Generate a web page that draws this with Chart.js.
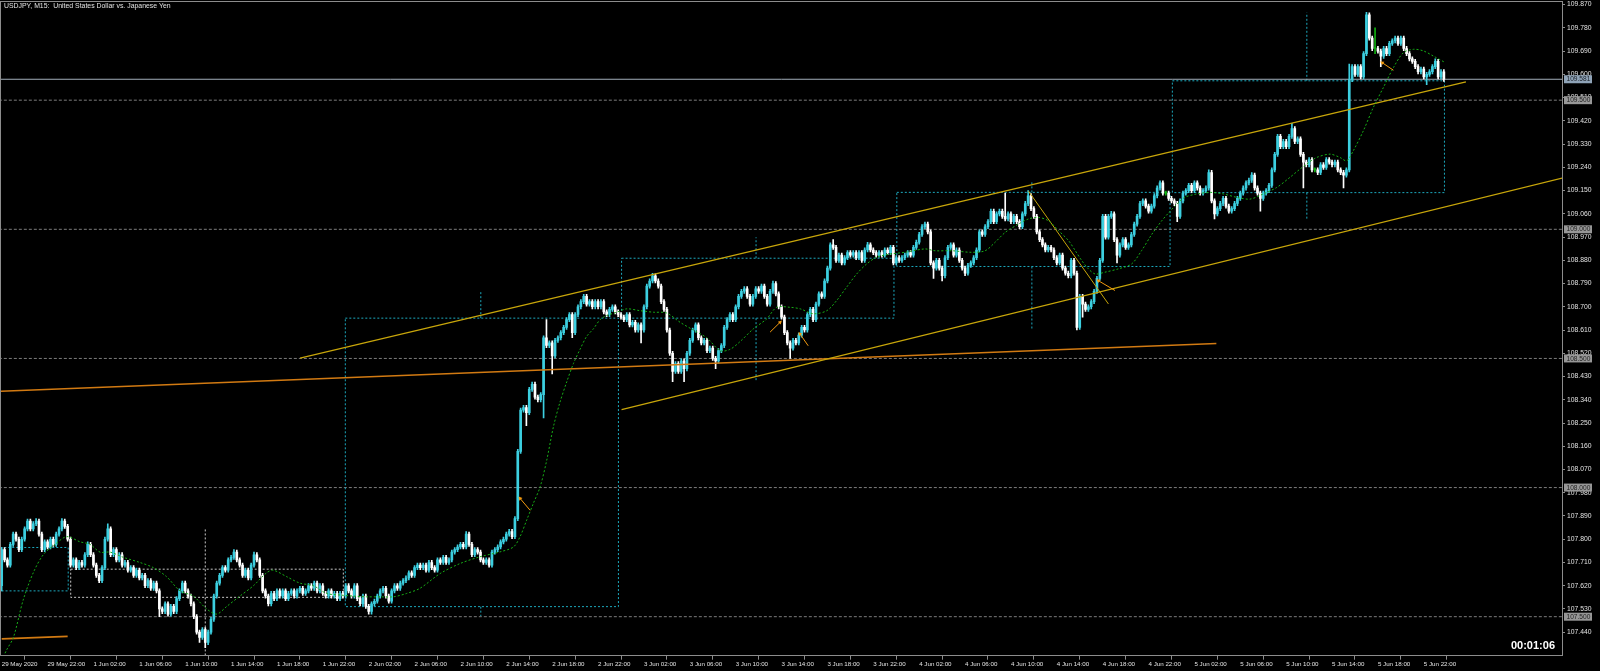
<!DOCTYPE html>
<html>
<head>
<meta charset="utf-8">
<title>USDJPY, M15</title>
<script src="https://cdn.jsdelivr.net/npm/chart.js@4.4.1/dist/chart.umd.min.js"></script>
<style>
    html, body { margin: 0; padding: 0; background: #000; }
    #wrap { width: 1600px; height: 671px; }
</style>
</head>
<body>
<div id="wrap"><canvas id="priceChart" width="1600" height="671"></canvas></div>
<script>
// USDJPY M15 candles, 29 May 18:00 - 5 Jun 23:45 (one close per 15 min bar)
const closesMay29 = [107.76, 107.72, 107.70, 107.78, 107.82, 107.80, 107.76, 107.80, 107.84, 107.87, 107.84, 107.86,
    107.87, 107.82, 107.76, 107.79, 107.77, 107.80, 107.78, 107.82, 107.84, 107.87, 107.85, 107.80];

const closesJun1 = [107.70, 107.72, 107.69, 107.71, 107.70, 107.74, 107.78, 107.74, 107.70, 107.66, 107.64, 107.69,
    107.80, 107.84, 107.74, 107.76, 107.72, 107.74, 107.70, 107.71, 107.68, 107.69, 107.66, 107.68,
    107.65, 107.66, 107.62, 107.64, 107.61, 107.63, 107.60, 107.53, 107.52, 107.55, 107.51, 107.54,
    107.52, 107.57, 107.60, 107.63, 107.60, 107.58, 107.55, 107.50, 107.44, 107.42, 107.45, 107.40,
    107.44, 107.49, 107.58, 107.63, 107.66, 107.69, 107.68, 107.72, 107.73, 107.75, 107.72, 107.70,
    107.66, 107.68, 107.65, 107.70, 107.74, 107.72, 107.66, 107.60, 107.58, 107.55, 107.59, 107.57,
    107.60, 107.58, 107.60, 107.57, 107.59, 107.60, 107.58, 107.60, 107.61, 107.59, 107.60, 107.62,
    107.61, 107.63, 107.60, 107.62, 107.59, 107.58, 107.60, 107.58, 107.59, 107.57, 107.59, 107.58];

const closesJun2 = [107.62, 107.60, 107.58, 107.62, 107.57, 107.55, 107.58, 107.54, 107.52, 107.55, 107.56, 107.58,
    107.60, 107.61, 107.58, 107.56, 107.60, 107.62, 107.61, 107.63, 107.64, 107.65, 107.67, 107.66,
    107.69, 107.70, 107.69, 107.70, 107.68, 107.71, 107.69, 107.68, 107.72, 107.71, 107.73, 107.71,
    107.72, 107.75, 107.76, 107.77, 107.78, 107.77, 107.82, 107.78, 107.74, 107.76, 107.75, 107.72,
    107.71, 107.72, 107.70, 107.75, 107.76, 107.77, 107.79, 107.80, 107.82, 107.83, 107.81, 107.88,
    108.14, 108.30, 108.31, 108.29, 108.38, 108.40, 108.35, 108.34, 108.36, 108.58, 108.55, 108.56,
    108.51, 108.57, 108.58, 108.60, 108.62, 108.65, 108.67, 108.60, 108.67, 108.70, 108.72, 108.74,
    108.71, 108.72, 108.70, 108.72, 108.70, 108.72, 108.68, 108.67, 108.69, 108.70, 108.68, 108.67];

const closesJun3 = [108.66, 108.65, 108.67, 108.63, 108.64, 108.61, 108.63, 108.61, 108.70, 108.78, 108.80, 108.82,
    108.80, 108.78, 108.72, 108.69, 108.61, 108.52, 108.45, 108.48, 108.45, 108.49, 108.46, 108.52,
    108.57, 108.61, 108.63, 108.58, 108.56, 108.57, 108.53, 108.54, 108.50, 108.49, 108.53, 108.55,
    108.62, 108.65, 108.67, 108.65, 108.70, 108.74, 108.76, 108.77, 108.74, 108.71, 108.74, 108.77,
    108.76, 108.78, 108.74, 108.71, 108.76, 108.79, 108.75, 108.70, 108.66, 108.60, 108.56, 108.54,
    108.57, 108.56, 108.59, 108.62, 108.61, 108.67, 108.69, 108.65, 108.71, 108.75, 108.74, 108.80,
    108.85, 108.94, 108.93, 108.88, 108.90, 108.87, 108.89, 108.91, 108.90, 108.91, 108.89, 108.91,
    108.88, 108.92, 108.94, 108.92, 108.91, 108.90, 108.91, 108.90, 108.92, 108.91, 108.93, 108.87];

const closesJun4 = [108.89, 108.88, 108.89, 108.90, 108.91, 108.90, 108.93, 108.95, 108.98, 109.01, 109.02, 108.99,
    108.87, 108.85, 108.88, 108.85, 108.82, 108.89, 108.93, 108.94, 108.90, 108.92, 108.88, 108.85,
    108.83, 108.86, 108.87, 108.89, 108.92, 108.99, 108.98, 109.01, 109.03, 109.07, 109.03, 109.06,
    109.07, 109.05, 109.04, 109.06, 109.03, 109.05, 109.03, 109.01, 109.06, 109.10, 109.13, 109.08,
    109.05, 108.99, 108.96, 108.94, 108.92, 108.93, 108.92, 108.89, 108.87, 108.90, 108.85, 108.83,
    108.82, 108.88, 108.83, 108.62, 108.74, 108.71, 108.69, 108.70, 108.72, 108.76, 108.81, 108.88,
    109.05, 108.97, 109.05, 109.06, 108.96, 108.90, 108.94, 108.96, 108.93, 108.94, 108.98, 109.02,
    109.05, 109.10, 109.11, 109.09, 109.07, 109.09, 109.13, 109.16, 109.18, 109.14, 109.14, 109.12];

const closesJun5 = [109.11, 109.10, 109.05, 109.11, 109.14, 109.15, 109.17, 109.15, 109.18, 109.16, 109.14, 109.15,
    109.16, 109.22, 109.11, 109.06, 109.08, 109.10, 109.12, 109.09, 109.07, 109.08, 109.10, 109.12,
    109.14, 109.16, 109.18, 109.19, 109.21, 109.16, 109.14, 109.12, 109.14, 109.15, 109.17, 109.23,
    109.29, 109.36, 109.32, 109.34, 109.32, 109.36, 109.39, 109.34, 109.35, 109.29, 109.26, 109.25,
    109.27, 109.23, 109.23, 109.22, 109.25, 109.24, 109.27, 109.26, 109.25, 109.26, 109.23, 109.22,
    109.21, 109.23, 109.58, 109.63, 109.60, 109.63, 109.59, 109.68, 109.83, 109.74, 109.70, 109.70,
    109.69, 109.67, 109.70, 109.68, 109.72, 109.73, 109.74, 109.72, 109.74, 109.70, 109.68, 109.66,
    109.65, 109.63, 109.61, 109.62, 109.59, 109.60, 109.61, 109.63, 109.65, 109.59, 109.61, 109.581];

const firstOpen = 107.62;
const wickSize = 0.008;
// bars whose wick sticks out further than usual: [bar, price]
const highOverrides = [[12, 107.88], [21, 107.88], [30, 107.79], [37, 107.86], [81, 107.76], [88, 107.75],
    [162, 107.83], [190, 108.65], [227, 108.83], [269, 108.80], [290, 108.96], [302, 108.95],
    [350, 109.14], [358, 109.15], [387, 109.07], [421, 109.23], [436, 109.22], [450, 109.41],
    [470, 109.64], [476, 109.84], [479, 109.78], [500, 109.66]];
const lowOverrides = [[0, 107.60], [55, 107.50], [69, 107.40], [71, 107.38], [128, 107.51], [129, 107.51],
    [183, 108.24], [189, 108.27], [192, 108.44], [199, 108.58], [223, 108.56], [234, 108.41],
    [238, 108.41], [249, 108.46], [275, 108.50], [325, 108.81], [328, 108.80], [336, 108.82],
    [375, 108.61], [377, 108.66], [389, 108.87], [410, 109.03], [423, 109.04], [439, 109.07],
    [454, 109.16], [468, 109.16], [479, 109.68], [481, 109.63], [497, 109.56]];
const dojiBars = [406, 458, 479];

// axis labels
const timeLabels = ['29 May 2020', '29 May 22:00',
    '1 Jun 02:00', '1 Jun 06:00', '1 Jun 10:00', '1 Jun 14:00', '1 Jun 18:00', '1 Jun 22:00',
    '2 Jun 02:00', '2 Jun 06:00', '2 Jun 10:00', '2 Jun 14:00', '2 Jun 18:00', '2 Jun 22:00',
    '3 Jun 02:00', '3 Jun 06:00', '3 Jun 10:00', '3 Jun 14:00', '3 Jun 18:00', '3 Jun 22:00',
    '4 Jun 02:00', '4 Jun 06:00', '4 Jun 10:00', '4 Jun 14:00', '4 Jun 18:00', '4 Jun 22:00',
    '5 Jun 02:00', '5 Jun 06:00', '5 Jun 10:00', '5 Jun 14:00', '5 Jun 18:00', '5 Jun 22:00'];
const barsPerLabel = 16;
const priceTicks = [109.87, 109.78, 109.69, 109.60, 109.51, 109.42, 109.33, 109.24, 109.15, 109.06,
    108.97, 108.88, 108.79, 108.70, 108.61, 108.52, 108.43, 108.34, 108.25, 108.16,
    108.07, 107.98, 107.89, 107.80, 107.71, 107.62, 107.53, 107.44];
const roundLevels = [109.5, 109.0, 108.5, 108.0, 107.5];
const lastPrice = 109.581;
const chartTitle = 'USDJPY, M15:  United States Dollar vs. Japanese Yen';
const barTimer = '00:01:06';

// moving average (green dotted), read at these bar positions
const maIdx = [0, 1.7, 4.1, 7.5, 11, 14.5, 18.6, 22.7, 27.3, 30.8, 34.3, 37.8, 42.4, 48.2, 52.9, 57.5, 62.2, 66.8, 71.5, 75,
    78.5, 83.1, 87.8, 92.4, 94.7, 99.4, 104, 108.7, 113.3, 118, 122.6, 127.3, 131.9, 136.6, 141.2, 145.9, 152.9, 159.9, 166.8, 173.8,
    178.5, 180.8, 183.1, 185.4, 187.8, 190.1, 192.4, 194.7, 197.1, 199.4, 201.7, 204, 206.4, 208.7, 211, 214.5, 218, 222.6, 227.3, 231.9,
    236.6, 241.2, 245.9, 250.6, 254, 257.5, 262.2, 266.8, 270.3, 275, 278.5, 283.1, 287.8, 291.2, 294.7, 298.2, 301.7, 305.2, 309.8, 315.1,
    322, 325.5, 331.4, 338.3, 343, 346.5, 350, 354.6, 358.1, 361.6, 365.1, 368.6, 372.1, 374.4, 376.7, 379, 381.4, 384.8, 389.5, 394.1,
    397.6, 401.1, 404.6, 407.5, 409.3, 412.5, 416.5, 421.4, 426.1, 430.7, 435.4, 440, 444.7, 449.3, 452.8, 455.2, 458.6, 463.3, 466.8, 469.1,
    471.4, 474.9, 478.4, 481.9, 485.4, 488.9, 492.4, 495.8, 499.3, 503.4];
const maVal = [107.33, 107.371, 107.42, 107.565, 107.67, 107.74, 107.78, 107.81, 107.79, 107.78, 107.75, 107.75, 107.73, 107.71, 107.69, 107.655, 107.60, 107.58, 107.53, 107.51,
    107.54, 107.58, 107.62, 107.67, 107.68, 107.655, 107.63, 107.62, 107.59, 107.584, 107.58, 107.577, 107.577, 107.577, 107.59, 107.61, 107.667, 107.706, 107.732, 107.751,
    107.77, 107.81, 107.874, 107.938, 108.003, 108.106, 108.234, 108.33, 108.41, 108.48, 108.535, 108.585, 108.615, 108.65, 108.666, 108.679, 108.692, 108.685, 108.679, 108.676,
    108.64, 108.61, 108.58, 108.53, 108.535, 108.565, 108.615, 108.653, 108.698, 108.698, 108.692, 108.673, 108.685, 108.724, 108.776, 108.827, 108.866, 108.892, 108.904, 108.911,
    108.924, 108.917, 108.917, 108.911, 108.917, 108.95, 108.988, 109.02, 109.04, 109.046, 109.033, 108.995, 108.956, 108.918, 108.879, 108.847, 108.827, 108.834, 108.847, 108.866,
    108.918, 108.98, 109.033, 109.07, 109.091, 109.123, 109.136, 109.143, 109.137, 109.124, 109.117, 109.137, 109.162, 109.201, 109.233, 109.253, 109.278, 109.291, 109.278, 109.265,
    109.304, 109.381, 109.472, 109.549, 109.626, 109.684, 109.697, 109.691, 109.671, 109.646];

// drawn objects, in [bar, price]
const channelUpper = [[104.05, 108.501], [510.7, 109.571]];
const channelLower = [[216.2, 108.302], [544.6, 109.199]];
const orangeLine = [[-0.6, 108.373], [423.65, 108.558]];
const orangeShort = [[0, 107.414], [23, 107.424]];
const diagonalLine = [[358.1, 109.148], [386.0, 108.711]];
// daily boxes: [fromBar, toBar, low, high]
const cyanBoxes = [[-0.5, 23.2, 107.600, 107.768], [119.85, 215.1, 107.539, 108.656], [216.2, 311.2, 108.656, 108.888],
    [312.2, 407.5, 108.856, 109.143], [408.3, 503.2, 109.142, 109.575]];
const whiteBoxes = [[24.07, 119.15, 107.575, 107.684]];
// vertical marks: [bar, fromPrice, toPrice]
const cyanMarks = [[167.1, 108.656, 108.763], [167.1, 107.539, 107.503], [263.1, 108.888, 108.969], [263.1, 108.656, 108.415],
    [359.3, 109.143, 109.188], [359.3, 108.856, 108.608], [455.2, 109.575, 109.839], [455.2, 109.142, 109.033]];
const whiteMarks = [[71.0, 107.838, 107.33]];
// arrows: [tailBar, tailPrice, headBar, headPrice]
const arrows = [[184.3, 107.912, 180.8, 107.958], [268.0, 108.602, 271.5, 108.640], [281.3, 108.549, 278.4, 108.595],
    [388.3, 108.763, 382.5, 108.801], [485.4, 109.616, 481.5, 109.645]];

// colours
const bullColor = '#3ccfe0';
const bearColor = '#ffffff';
const dojiColor = '#10b010';
const cyanDot = '#1ca8bd';
const labelColor = '#e2e2e2';
const frameColor = '#8c8c8c';
const fontFamily = '"Liberation Sans", Arial, sans-serif';

// ---- build candles ----
const allCloses = [].concat(closesMay29, closesJun1, closesJun2, closesJun3, closesJun4, closesJun5);
const highMap = new Map(highOverrides);
const lowMap = new Map(lowOverrides);

const candles = allCloses.map(function(c, i) {
    const o = i === 0 ? firstOpen : allCloses[i - 1];
    const top = Math.max(o, c);
    const bottom = Math.min(o, c);
    return {
        i: i, o: o, c: c,
        h: highMap.has(i) ? highMap.get(i) : top + wickSize,
        l: lowMap.has(i) ? lowMap.get(i) : bottom - wickSize,
        doji: dojiBars.includes(i)
    };
});

function candleColor(ctx) {
    const bar = candles[ctx.dataIndex];
    if (!bar) return bearColor;
    if (bar.doji) return dojiColor;
    return bar.c > bar.o ? bullColor : bearColor;
}

function toPoints(pairs) {
    return pairs.map(p => ({ x: p[0], y: p[1] }));
}

function boxPoints(b) {
    return [{ x: b[0], y: b[3] }, { x: b[1], y: b[3] }, { x: b[1], y: b[2] }, { x: b[0], y: b[2] }, { x: b[0], y: b[3] }];
}

function lineSet(data, color, width, dash, order) {
    return {
        type: 'line',
        data: data,
        borderColor: color,
        borderWidth: width,
        borderDash: dash || [],
        pointRadius: 0,
        fill: false,
        tension: 0,
        order: order
    };
}

const datasets = [];

// horizontal round levels and last price
roundLevels.forEach(function(level) {
    datasets.push(lineSet([{ x: -1, y: level }, { x: 546, y: level }], '#7c7c7c', 1, [3, 2], 20));
});

// daily boxes and their marks
cyanBoxes.forEach(b => datasets.push(lineSet(boxPoints(b), cyanDot, 1, [2, 2], 19)));
whiteBoxes.forEach(b => datasets.push(lineSet(boxPoints(b), '#c8c8c8', 1, [2, 2], 19)));
cyanMarks.forEach(m => datasets.push(lineSet([{ x: m[0], y: m[1] }, { x: m[0], y: m[2] }], cyanDot, 1, [2, 2], 19)));
whiteMarks.forEach(m => datasets.push(lineSet([{ x: m[0], y: m[1] }, { x: m[0], y: m[2] }], '#c8c8c8', 1, [2, 2], 19)));

datasets.push(lineSet([{ x: -1, y: lastPrice }, { x: 546, y: lastPrice }], '#a3afbb', 1, [], 18));

// candles: wicks then bodies
datasets.push({
    type: 'bar',
    data: candles.map(b => ({ x: b.i, y: [b.l, b.h] })),
    backgroundColor: candleColor,
    barThickness: 1,
    minBarLength: 1,
    grouped: false,
    order: 6
});
datasets.push({
    type: 'bar',
    data: candles.map(b => ({ x: b.i, y: [b.o, b.c] })),
    backgroundColor: candleColor,
    barThickness: 2,
    minBarLength: 1,
    grouped: false,
    order: 5
});

// trend lines
datasets.push(lineSet(toPoints(orangeLine), '#d27a12', 1.6, [], 3));
datasets.push(lineSet(toPoints(orangeShort), '#d27a12', 1.6, [], 3));
datasets.push(lineSet(toPoints(channelUpper), '#c8a60a', 1.2, [], 2));
datasets.push(lineSet(toPoints(channelLower), '#c8a60a', 1.2, [], 2));
datasets.push(lineSet(toPoints(diagonalLine), '#c8a60a', 1, [], 2));

// moving average
const maSet = lineSet(maIdx.map((x, k) => ({ x: x, y: maVal[k] })), '#16ad16', 1, [2, 2], 1);
maSet.tension = 0.3;
datasets.push(maSet);

// arrows
arrows.forEach(function(a) {
    datasets.push({
        type: 'line',
        data: [{ x: a[0], y: a[1] }, { x: a[2], y: a[3] }],
        borderColor: '#f39a10',
        backgroundColor: '#f39a10',
        borderWidth: 1,
        pointStyle: 'triangle',
        pointRadius: ctx => ctx.dataIndex === 1 ? 2.4 : 0,
        pointBorderWidth: 0,
        rotation: function(ctx) {
            const xs = ctx.chart.scales.x;
            const ys = ctx.chart.scales.y;
            const d = ctx.dataset.data;
            const dx = xs.getPixelForValue(d[1].x) - xs.getPixelForValue(d[0].x);
            const dy = ys.getPixelForValue(d[1].y) - ys.getPixelForValue(d[0].y);
            return Math.atan2(dx, -dy) * 180 / Math.PI;
        },
        order: 0
    });
});

// ---- frame, title, marked prices, timer ----
const chartDecor = {
    id: 'chartDecor',
    afterDraw(chart) {
        const ctx = chart.ctx;
        const area = chart.chartArea;
        const yScale = chart.scales.y;
        ctx.save();

        ctx.strokeStyle = frameColor;
        ctx.lineWidth = 1;
        ctx.strokeRect(Math.round(area.left) - 0.5, Math.round(area.top) + 0.5,
            Math.round(area.right - area.left) + 1, Math.round(area.bottom - area.top) - 1);

        ctx.fillStyle = labelColor;
        ctx.font = '6.9px ' + fontFamily;
        ctx.textBaseline = 'middle';
        ctx.textAlign = 'left';
        ctx.fillText(chartTitle, 4, 6.5);

        // price labels with a background box
        const marked = roundLevels.map(v => ({ v: v, bg: '#979797', fg: '#1e1e1e' }));
        marked.push({ v: lastPrice, bg: '#8fa3b7', fg: '#1a1f26' });
        ctx.font = '6.6px ' + fontFamily;
        marked.forEach(function(m) {
            const y = yScale.getPixelForValue(m.v);
            ctx.fillStyle = m.bg;
            ctx.fillRect(area.right + 2, y - 4, 28, 8);
            ctx.fillStyle = m.fg;
            ctx.fillText(m.v.toFixed(3), area.right + 4.5, y + 0.3);
        });

        ctx.fillStyle = '#ffffff';
        ctx.font = 'bold 11px ' + fontFamily;
        ctx.textAlign = 'right';
        ctx.fillText(barTimer, area.right - 7, area.bottom - 10);
        ctx.restore();
    }
};

const xMin = -0.244;
const xMax = 544.2;

new Chart(document.getElementById('priceChart'), {
    type: 'bar',
    data: { datasets: datasets },
    options: {
        responsive: false,
        animation: false,
        devicePixelRatio: 1,
        events: [],
        layout: { autoPadding: false, padding: { left: 1, top: 1, right: 0, bottom: 0 } },
        plugins: {
            legend: { display: false },
            tooltip: { enabled: false },
            title: { display: false }
        },
        scales: {
            x: {
                type: 'linear',
                bounds: 'data',
                min: xMin,
                max: xMax,
                offset: false,
                border: { display: false },
                grid: { display: true, drawOnChartArea: false, drawTicks: true, tickLength: 4, color: frameColor },
                ticks: {
                    autoSkip: false,
                    maxRotation: 0,
                    align: 'start',
                    padding: 1,
                    color: labelColor,
                    font: { size: 6.2, family: fontFamily },
                    callback: function(value) {
                        return timeLabels[Math.round(value / barsPerLabel)];
                    }
                },
                afterBuildTicks: function(scale) {
                    scale.ticks = timeLabels.map((t, k) => ({ value: k * barsPerLabel }));
                },
                afterFit: function(scale) {
                    scale.height = 15.3;
                    scale.paddingLeft = 0;
                    scale.paddingRight = 0;
                }
            },
            y: {
                type: 'linear',
                position: 'right',
                bounds: 'data',
                min: 107.349,
                max: 109.884,
                border: { display: false },
                grid: { display: true, drawOnChartArea: false, drawTicks: true, tickLength: 3, color: frameColor },
                ticks: {
                    autoSkip: false,
                    padding: 2,
                    color: labelColor,
                    font: { size: 6.8, family: fontFamily },
                    callback: value => value.toFixed(3)
                },
                afterBuildTicks: function(scale) {
                    scale.ticks = priceTicks.map(v => ({ value: v }));
                },
                afterFit: function(scale) {
                    scale.width = 38;
                    scale.paddingTop = 0;
                    scale.paddingBottom = 0;
                }
            }
        }
    },
    plugins: [chartDecor]
});
</script>
</body>
</html>
